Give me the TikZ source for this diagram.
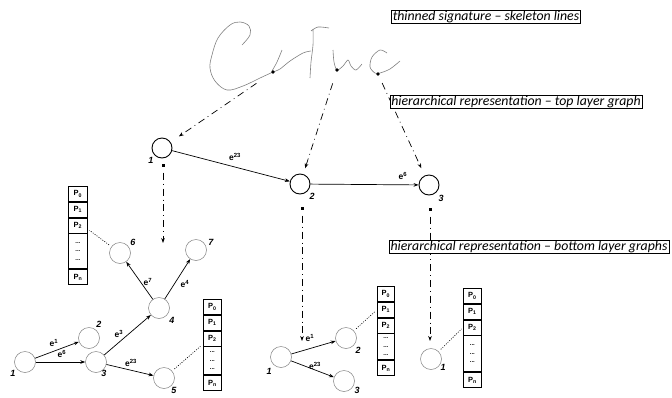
\documentclass[tikz,border=0pt]{standalone}
\usepackage{fontspec}
\setmainfont{Carlito}
\newfontfamily\lblfont{Liberation Sans}
\usetikzlibrary{arrows.meta}
\newcommand\mkarray[5]{%
 \node[cell, minimum width=#5pt, anchor=north west] (#1p0) at (#2,#3) {P\textsubscript{0}};
 \node[cell, minimum width=#5pt, anchor=north] (#1p1) at (#1p0.south) {P\textsubscript{1}};
 \node[cell, minimum width=#5pt, anchor=north] (#1p2) at (#1p1.south) {P\textsubscript{2}};
 \node[cell, minimum width=#5pt, anchor=north, minimum height=#4pt, align=center, font=\lblfont\bfseries\fontsize{6}{8.5}\selectfont] (#1pd) at (#1p2.south) {...\\...\\...};
 \node[cell, minimum width=#5pt, anchor=north] (#1pn) at (#1pd.south) {P\textsubscript{n}};
}
\begin{document}
\begin{tikzpicture}[x=1pt,y=-1pt,
 topnode/.style={circle, draw, line width=0.9pt, minimum size=20pt, inner sep=0pt},
 botnode/.style={circle, draw=gray, line width=0.5pt, minimum size=21pt, inner sep=0pt},
 num/.style={font=\lblfont\bfseries\itshape\fontsize{9}{10}\selectfont, inner sep=0pt},
 elab/.style={font=\lblfont\bfseries\fontsize{8.5}{9}\selectfont, inner sep=0pt},
 edge/.style={-{Stealth[length=5pt,width=3.6pt]}, line width=0.7pt},
 ddot/.style={dash pattern=on 7pt off 4pt on 0.8pt off 4pt, line width=0.7pt, -{Stealth[length=5pt,width=3.6pt]}},
 conn/.style={dash pattern=on 1pt off 1.4pt, line width=0.6pt},
 caption/.style={draw, fill=white, line width=0.6pt, font=\itshape\fontsize{13.8}{15}\selectfont, inner xsep=1.5pt, inner ysep=0.6pt},
 cell/.style={draw, line width=0.8pt, minimum height=15pt, inner sep=0pt, font=\lblfont\bfseries\fontsize{7.5}{8}\selectfont},
 sig/.style={gray, line width=0.6pt},
 sdot/.style={circle, fill=black, inner sep=0pt, minimum size=3.6pt},
 sq/.style={rectangle, fill=black, inner sep=0pt, minimum size=3pt}
]
\useasboundingbox (0,0) rectangle (672,397);

% signature skeleton
\draw[sig] plot[smooth, tension=0.6] coordinates {(242,45) (250,35) (249,26) (240,22) (230,25) (218,38) (212,55) (210,68) (215,81) (227,90) (243,86) (260,78) (273,72)};
\draw[sig] plot[smooth] coordinates {(272,71) (277,62) (282,50)};
\draw[sig] plot[smooth] coordinates {(273,72) (280,69) (290,61) (303,53) (311,51)};
\draw[sig] plot[smooth] coordinates {(313,29) (313,45) (311,62) (310,78)};
\draw[sig] plot[smooth] coordinates {(311,31) (318,27) (329,28)};
\draw[sig] plot[smooth] coordinates {(333,50) (334,62) (337,70) (343,66) (348,60) (351,66) (356,70) (362,64)};
\draw[sig] plot[smooth] coordinates {(387,53) (380,50) (372,57) (370,67) (375,73) (380,73) (390,69) (400,61)};
\node[sdot] (d1) at (273,72) {};
\node[sdot] (d2) at (337,70) {};
\node[sdot] (d3) at (378,74) {};

% top layer graph
\node[topnode] (t1) at (162,148) {};
\node[topnode] (t2) at (300,184) {};
\node[topnode] (t3) at (429,185) {};
\node[num] (t1l) at (151,160) {1};
\node[num] (t2l) at (312,196) {2};
\node[num] (t3l) at (441,198) {3};
\draw[edge] (t1) -- (t2);
\draw[edge] (t2) -- (t3);
\node[elab] (t12l) at (235,157) {e\textsuperscript{23}};
\node[elab] (t23l) at (403,176) {e\textsuperscript{6}};

\draw[ddot, shorten <=18pt, shorten >=10pt] (d1) -- (t1);
\draw[ddot, shorten <=12pt, shorten >=6pt] (d2) -- (t2);
\draw[ddot, shorten <=8pt, shorten >=8pt] (d3) -- (t3);

\node[sq] (s1) at (163,165) {};
\node[sq] (s2) at (302,208) {};
\node[sq] (s3) at (430,209) {};
\coordinate (e1) at (163,243);
\coordinate (e2) at (302,341);
\coordinate (e3) at (430,341);
\draw[ddot, shorten <=6pt] (s1) -- (e1);
\draw[ddot, shorten <=6pt] (s2) -- (e2);
\draw[ddot, shorten <=6pt] (s3) -- (e3);

% captions
\node[caption] (c1) at (486,17) {thinned signature -- skeleton lines};
\node[caption] (c2) at (516,102) {hierarchical representation -- top layer graph};
\node[caption] (c3) at (529,247) {hierarchical representation -- bottom layer graphs};

% bottom-left graph
\node[botnode] (n1) at (25,362) {};
\node[botnode] (n2) at (89,338) {};
\node[botnode] (n3) at (96,362) {};
\node[botnode] (n4) at (159,308) {};
\node[botnode] (n5) at (164,378) {};
\node[botnode] (n6) at (120,253) {};
\node[botnode] (n7) at (196,250) {};
\node[num] (n1l) at (13,373) {1};
\node[num] (n2l) at (99,324) {2};
\node[num] (n3l) at (104,373) {3};
\node[num] (n4l) at (172,320) {4};
\node[num] (n5l) at (174,390) {5};
\node[num] (n6l) at (133,242) {6};
\node[num] (n7l) at (211,242) {7};
\draw[edge] (n1) -- (n2);
\draw[edge] (n1) -- (n3);
\draw[edge] (n3) -- (n4);
\draw[edge] (n3) -- (n5);
\draw[edge] (n4) -- (n6);
\draw[edge] (n4) -- (n7);
\node[elab] (n12l) at (54,343) {e\textsuperscript{1}};
\node[elab] (n13l) at (62,354) {e\textsuperscript{6}};
\node[elab] (n34l) at (119,334) {e\textsuperscript{3}};
\node[elab] (n35l) at (131,363) {e\textsuperscript{23}};
\node[elab] (n46l) at (148,282) {e\textsuperscript{7}};
\node[elab] (n47l) at (185,284) {e\textsuperscript{4}};

\mkarray{a1}{68}{186}{35}{19}
\mkarray{a2}{203}{299}{28}{18}
\draw[conn, shorten <=3pt, shorten >=2pt] (n6) -- (a1p2.-20);
\draw[conn, shorten <=3pt, shorten >=2pt] (n5) -- (a2p2.211);

% bottom-middle graph
\node[botnode] (m1) at (281,357) {};
\node[botnode] (m2) at (346,338) {};
\node[botnode] (m3) at (344,381) {};
\node[num] (m1l) at (269,371) {1};
\node[num] (m2l) at (358,350) {2};
\node[num] (m3l) at (357,390) {3};
\draw[edge] (m1) -- (m2);
\draw[edge] (m1) -- (m3);
\node[elab] (m12l) at (310,338) {e\textsuperscript{1}};
\node[elab] (m13l) at (315,366) {e\textsuperscript{23}};
\mkarray{a3}{377}{286}{26}{17}
\draw[conn, shorten <=3pt, shorten >=2pt] (m2) -- (a3p1.west);

% bottom-right graph
\node[botnode] (r1) at (431,359) {};
\node[num] (r1l) at (443,367) {1};
\mkarray{a4}{463}{288}{36}{18}
\draw[conn, shorten <=3pt, shorten >=2pt] (r1) -- (a4p2.west);
\end{tikzpicture}
\end{document}
